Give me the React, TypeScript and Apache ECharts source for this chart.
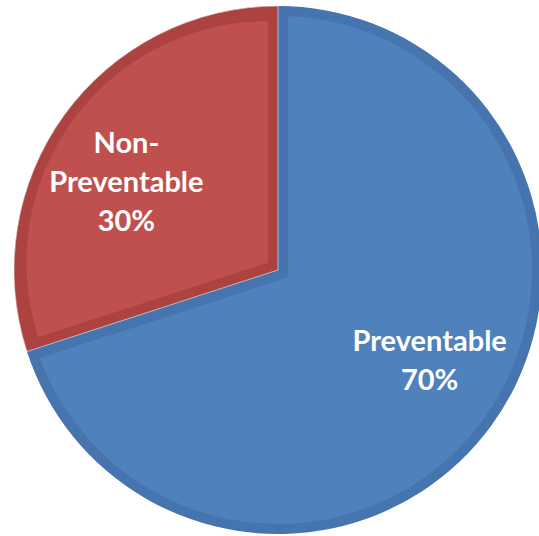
import React, { useEffect, useRef } from "react";
import * as echarts from "echarts";

const categories = ["Preventable", "Non-Preventable"];
const values = [70, 30];
const fillColors = ["#4F81BD", "#C0504D"];
const bandColors = ["#4574AE", "#AC4340"];

const CLEAR = "rgba(0,0,0,0)";
const CENTER = [278, 270];
const R = 264;
const BAND = 10;
const SHIFT = 12.4;

function layer(
  colors: (string | null)[],
  radius: number,
  z: number,
  extra: any = {},
  selectedIdx: number | null = null
) {
  return {
    type: "pie",
    center: CENTER,
    radius: [0, radius],
    startAngle: 90,
    clockwise: true,
    silent: true,
    z,
    label: { show: false },
    labelLine: { show: false },
    emphasis: { disabled: true },
    selectedMode: selectedIdx === null ? false : "single",
    ...extra,
    data: categories.map((name, i) => ({
      name,
      value: values[i],
      selected: selectedIdx === i,
      itemStyle: { color: colors[i] ?? CLEAR, borderWidth: 0 },
      select: { itemStyle: { color: colors[i] ?? CLEAR, borderWidth: 0 } },
    })),
  };
}

export default function App() {
  const ref = useRef<HTMLDivElement>(null);
  useEffect(() => {
    const chart = echarts.init(ref.current!, null, { renderer: "svg" });
    const option = {
      animation: false,
      backgroundColor: "#ffffff",
      series: [
        // full circle in band colours
        layer(bandColors, R, 1),
        // inner fill of the preventable slice
        layer([fillColors[0], null], R - BAND, 2),
        // band of the preventable slice along the shared edges
        layer([null, bandColors[0]], R + 6, 3, { selectedOffset: -SHIFT }, 1),
        // non-preventable slice band
        {
          ...layer([null, bandColors[1]], R, 4),
          data: categories.map((name, i) => ({
            name,
            value: values[i],
            itemStyle:
              i === 1
                ? { color: bandColors[1], borderColor: "rgba(255,255,255,0.55)", borderWidth: 1 }
                : { color: CLEAR, borderWidth: 0 },
          })),
        },
        // inner fill of non-preventable slice
        layer([null, fillColors[1]], R - BAND - SHIFT, 5, { selectedOffset: SHIFT }, 1),
        // labels
        {
          type: "pie",
          center: CENTER,
          radius: [0, 346],
          startAngle: 95.5,
          clockwise: true,
          silent: true,
          z: 6,
          emphasis: { disabled: true },
          labelLine: { show: false },
          label: {
            show: true,
            position: "inside",
            color: "#ffffff",
            fontFamily: "Lato",
            fontWeight: "bold",
            fontSize: 29,
            lineHeight: 39,
            align: "center",
            formatter: (p: any) => p.name.replace("-", "-\n") + "\n" + Math.round(p.percent) + "%",
          },
          itemStyle: { color: CLEAR, borderWidth: 0 },
          data: categories.map((name, i) => ({ name, value: values[i] })),
        },
      ],
    };
    chart.setOption(option as any);
    return () => chart.dispose();
  }, []);
  return (
    <div
      ref={ref}
      style={{ position: "fixed", left: 0, top: 0, width: 539, height: 536 }}
    />
  );
}
